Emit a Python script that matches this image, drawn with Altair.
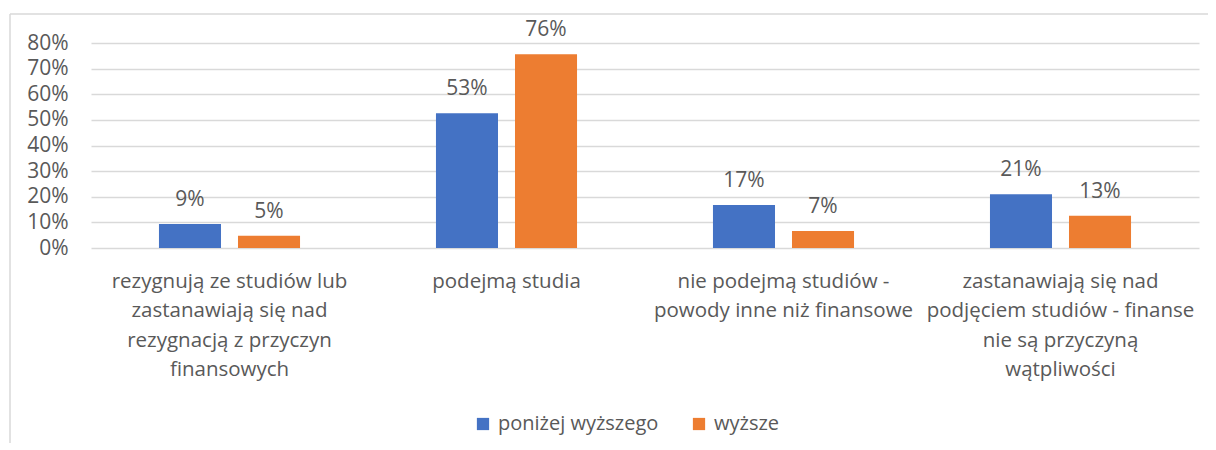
import altair as alt
import pandas as pd

categories = [
    "rezygnują ze studiów lub\nzastanawiają się nad\nrezygnacją z przyczyn\nfinansowych",
    "podejmą studia",
    "nie podejmą studiów -\npowody inne niż finansowe",
    "zastanawiają się nad\npodjęciem studiów - finanse\nnie są przyczyną\nwątpliwości",
]
series = ["poniżej wyższego", "wyższe"]
values_below = [0.094, 0.526, 0.168, 0.210]
values_higher = [0.048, 0.756, 0.066, 0.126]
colors = ["#4472C4", "#ED7D31"]
y_ticks = [0, 0.1, 0.2, 0.3, 0.4, 0.5, 0.6, 0.7, 0.8]

rows = []
for i, c in enumerate(categories):
    rows.append({"cat": c, "series": series[0], "value": values_below[i]})
    rows.append({"cat": c, "series": series[1], "value": values_higher[i]})
df = pd.DataFrame(rows)

FONT = "Open Sans"
TXT = "#595959"
GRID = "#D9D9D9"

x_enc = alt.X(
    "cat:N",
    sort=categories,
    title=None,
    scale=alt.Scale(paddingInner=0, paddingOuter=0),
    axis=alt.Axis(
        labelAngle=0,
        labelExpr="split(datum.label, '\\n')",
        labelFont=FONT,
        labelFontSize=20.5,
        labelColor=TXT,
        labelLimit=0,
        labelLineHeight=29.5,
        labelBaseline="top",
        labelPadding=23,
        ticks=False,
        domain=False,
        grid=False,
    ),
)
xo_enc = alt.XOffset(
    "series:N", sort=series, scale=alt.Scale(paddingInner=0.215, paddingOuter=0.86)
)
y_enc = alt.Y(
    "value:Q",
    title=None,
    scale=alt.Scale(domain=[0, 0.8], nice=False),
    axis=alt.Axis(
        values=y_ticks,
        format=".0%",
        labelFont=FONT,
        labelFontSize=21,
        labelColor=TXT,
        labelPadding=23,
        labelOverlap=False,
        ticks=False,
        domain=False,
        grid=True,
        gridColor=GRID,
        gridWidth=1.3,
    ),
)

base = alt.Chart(df)

bars = base.mark_bar().encode(
    x=x_enc,
    xOffset=xo_enc,
    y=y_enc,
    color=alt.Color(
        "series:N",
        sort=series,
        scale=alt.Scale(domain=series, range=colors),
        legend=alt.Legend(
            title=None,
            orient="none",
            direction="horizontal",
            legendX=382,
            legendY=371,
            symbolType="square",
            symbolSize=150,
            symbolStrokeWidth=0,
            labelFont=FONT,
            labelFontSize=20,
            labelColor=TXT,
            labelLimit=0,
            labelOffset=5,
            columnPadding=30,
            padding=0,
        ),
    ),
)

labels = base.mark_text(
    baseline="alphabetic", dy=-18, font=FONT, fontSize=21, color=TXT
).encode(
    x=x_enc,
    xOffset=xo_enc,
    y=y_enc,
    text=alt.Text("value:Q", format=".0%"),
)

frame_data = alt.Data(values=[{"k": 1}])
top_border = alt.Chart(frame_data).mark_rule(color=GRID, strokeWidth=1.5).encode(
    x=alt.value(-81), x2=alt.value(1125), y=alt.value(-29)
)
left_border = alt.Chart(frame_data).mark_rule(color=GRID, strokeWidth=1.5).encode(
    x=alt.value(-81), y=alt.value(-29), y2=alt.value(400)
)

chart = (
    alt.layer(bars, labels, top_border, left_border)
    .properties(
        width=1108,
        height=205,
        padding={"left": 83, "top": 35, "right": 9, "bottom": 195},
        autosize="none",
    )
    .configure_view(stroke=None)
)

chart.save("out.html", embed_options={"renderer": "svg", "actions": False})
